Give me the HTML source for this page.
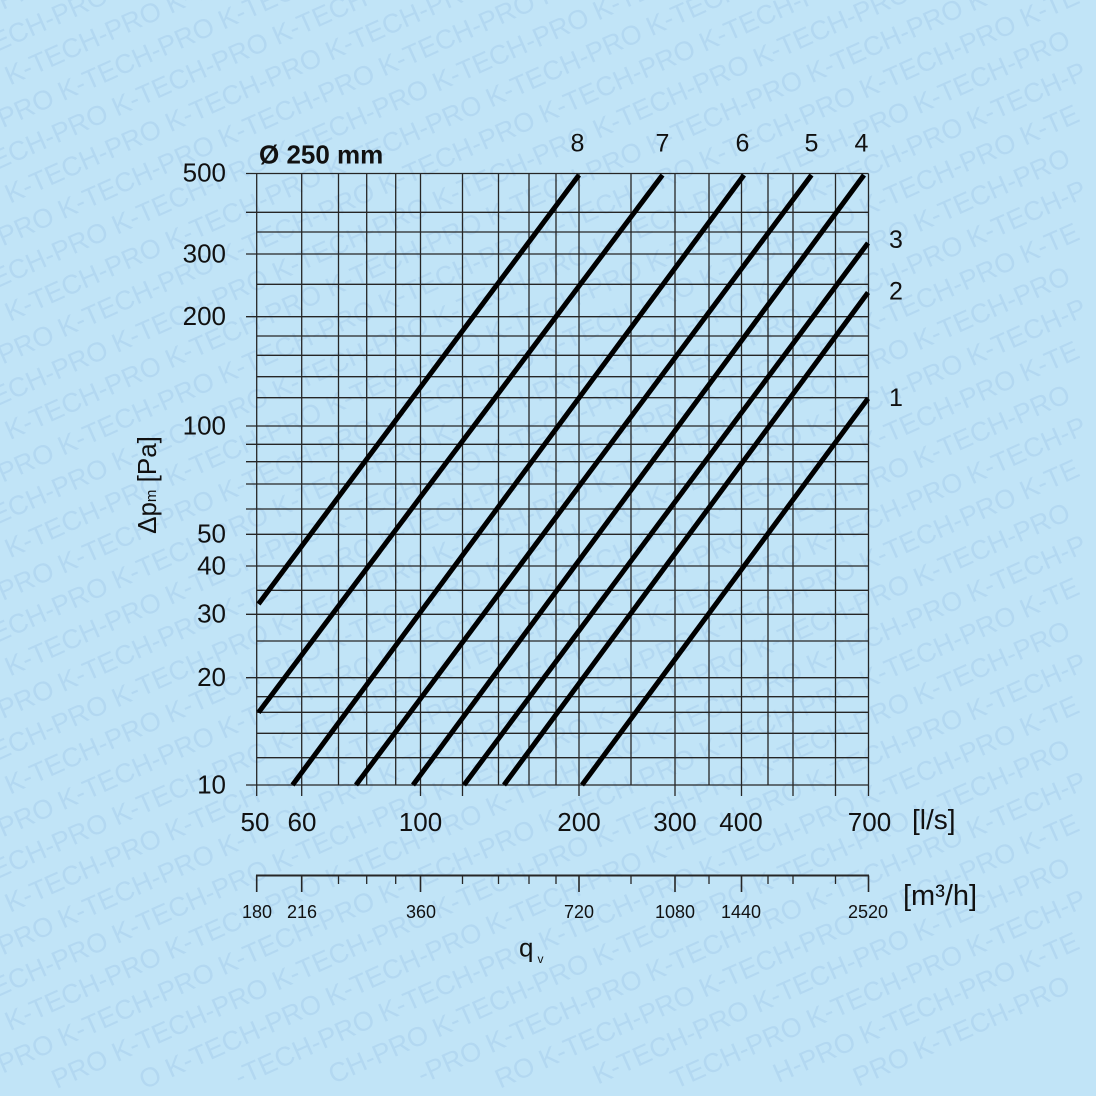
<!DOCTYPE html>
<html><head><meta charset="utf-8"><style>
html,body{margin:0;padding:0;background:#c1e4f7;width:1096px;height:1096px;overflow:hidden;}
svg{display:block;overflow:hidden;}
</style></head><body>
<svg width="1096" height="1096" viewBox="0 0 1096 1096" xmlns="http://www.w3.org/2000/svg" font-family="Liberation Sans, Arial, sans-serif">
<rect width="1096" height="1096" fill="#c1e4f7"/>
<g font-size="27" fill="#b3d8f1">
<text transform="rotate(-24 -97.3 54.5)" x="-97.3" y="54.5">K-TECH-PRO</text>
<text transform="rotate(-24 -43.3 69.9)" x="-43.3" y="69.9">K-TECH-PRO K-TECH-PRO</text>
<text transform="rotate(-24 -150.3 156.9)" x="-150.3" y="156.9">K-TECH-PRO K-TECH-PRO K-TECH-PRO</text>
<text transform="rotate(-24 -97.3 172.7)" x="-97.3" y="172.7">K-TECH-PRO K-TECH-PRO K-TECH-PRO</text>
<text transform="rotate(-24 -43.3 188.1)" x="-43.3" y="188.1">K-TECH-PRO K-TECH-PRO K-TECH-PRO</text>
<text transform="rotate(-24 -150.3 275.1)" x="-150.3" y="275.1">K-TECH-PRO K-TECH-PRO K-TECH-PRO K-TECH-PRO</text>
<text transform="rotate(-24 -97.3 290.9)" x="-97.3" y="290.9">K-TECH-PRO K-TECH-PRO K-TECH-PRO K-TECH-PRO K-TECH-PRO</text>
<text transform="rotate(-24 -43.3 306.3)" x="-43.3" y="306.3">K-TECH-PRO K-TECH-PRO K-TECH-PRO K-TECH-PRO K-TECH-PRO</text>
<text transform="rotate(-24 -150.3 393.3)" x="-150.3" y="393.3">K-TECH-PRO K-TECH-PRO K-TECH-PRO K-TECH-PRO K-TECH-PRO K-TECH-PRO</text>
<text transform="rotate(-24 -97.3 409.1)" x="-97.3" y="409.1">K-TECH-PRO K-TECH-PRO K-TECH-PRO K-TECH-PRO K-TECH-PRO K-TECH-PRO</text>
<text transform="rotate(-24 -43.3 424.5)" x="-43.3" y="424.5">K-TECH-PRO K-TECH-PRO K-TECH-PRO K-TECH-PRO K-TECH-PRO K-TECH-PRO K-TECH-PRO</text>
<text transform="rotate(-24 -150.3 511.5)" x="-150.3" y="511.5">K-TECH-PRO K-TECH-PRO K-TECH-PRO K-TECH-PRO K-TECH-PRO K-TECH-PRO K-TECH-PRO K-TECH-P</text>
<text transform="rotate(-24 -97.3 527.3)" x="-97.3" y="527.3">K-TECH-PRO K-TECH-PRO K-TECH-PRO K-TECH-PRO K-TECH-PRO K-TECH-PRO K-TECH-PRO K-TE</text>
<text transform="rotate(-24 -43.3 542.7)" x="-43.3" y="542.7">K-TECH-PRO K-TECH-PRO K-TECH-PRO K-TECH-PRO K-TECH-PRO K-TECH-PRO K-TECH-PRO</text>
<text transform="rotate(-24 -150.3 629.7)" x="-150.3" y="629.7">K-TECH-PRO K-TECH-PRO K-TECH-PRO K-TECH-PRO K-TECH-PRO K-TECH-PRO K-TECH-PRO K-TECH-P</text>
<text transform="rotate(-24 -97.3 645.5)" x="-97.3" y="645.5">K-TECH-PRO K-TECH-PRO K-TECH-PRO K-TECH-PRO K-TECH-PRO K-TECH-PRO K-TECH-PRO K-TE</text>
<text transform="rotate(-24 -43.3 660.9)" x="-43.3" y="660.9">K-TECH-PRO K-TECH-PRO K-TECH-PRO K-TECH-PRO K-TECH-PRO K-TECH-PRO K-TECH-PRO</text>
<text transform="rotate(-24 -150.3 747.9)" x="-150.3" y="747.9">K-TECH-PRO K-TECH-PRO K-TECH-PRO K-TECH-PRO K-TECH-PRO K-TECH-PRO K-TECH-PRO K-TECH-P</text>
<text transform="rotate(-24 -97.3 763.7)" x="-97.3" y="763.7">K-TECH-PRO K-TECH-PRO K-TECH-PRO K-TECH-PRO K-TECH-PRO K-TECH-PRO K-TECH-PRO K-TE</text>
<text transform="rotate(-24 -43.3 779.1)" x="-43.3" y="779.1">K-TECH-PRO K-TECH-PRO K-TECH-PRO K-TECH-PRO K-TECH-PRO K-TECH-PRO K-TECH-PRO</text>
<text transform="rotate(-24 -150.3 866.1)" x="-150.3" y="866.1">K-TECH-PRO K-TECH-PRO K-TECH-PRO K-TECH-PRO K-TECH-PRO K-TECH-PRO K-TECH-PRO K-TECH-P</text>
<text transform="rotate(-24 -97.3 881.9)" x="-97.3" y="881.9">K-TECH-PRO K-TECH-PRO K-TECH-PRO K-TECH-PRO K-TECH-PRO K-TECH-PRO K-TECH-PRO K-TE</text>
<text transform="rotate(-24 -43.3 897.3)" x="-43.3" y="897.3">K-TECH-PRO K-TECH-PRO K-TECH-PRO K-TECH-PRO K-TECH-PRO K-TECH-PRO K-TECH-PRO</text>
<text transform="rotate(-24 -150.3 984.3)" x="-150.3" y="984.3">K-TECH-PRO K-TECH-PRO K-TECH-PRO K-TECH-PRO K-TECH-PRO K-TECH-PRO K-TECH-PRO K-TECH-P</text>
<text transform="rotate(-24 -97.3 1000.1)" x="-97.3" y="1000.1">K-TECH-PRO K-TECH-PRO K-TECH-PRO K-TECH-PRO K-TECH-PRO K-TECH-PRO K-TECH-PRO K-TE</text>
<text transform="rotate(-24 -43.3 1015.5)" x="-43.3" y="1015.5">K-TECH-PRO K-TECH-PRO K-TECH-PRO K-TECH-PRO K-TECH-PRO K-TECH-PRO K-TECH-PRO</text>
<text transform="rotate(-24 -110.6 1084.8)" x="-110.6" y="1084.8">ECH-PRO K-TECH-PRO K-TECH-PRO K-TECH-PRO K-TECH-PRO K-TECH-PRO K-TECH-PRO K-TECH-P</text>
<text transform="rotate(-24 -23.3 1085.4)" x="-23.3" y="1085.4">H-PRO K-TECH-PRO K-TECH-PRO K-TECH-PRO K-TECH-PRO K-TECH-PRO K-TECH-PRO K-TE</text>
<text transform="rotate(-24 56.7 1089.1)" x="56.7" y="1089.1">PRO K-TECH-PRO K-TECH-PRO K-TECH-PRO K-TECH-PRO K-TECH-PRO K-TECH-PRO</text>
<text transform="rotate(-24 144.3 1089.6)" x="144.3" y="1089.6">O K-TECH-PRO K-TECH-PRO K-TECH-PRO K-TECH-PRO K-TECH-PRO K-TECH-P</text>
<text transform="rotate(-24 239.7 1086.5)" x="239.7" y="1086.5">-TECH-PRO K-TECH-PRO K-TECH-PRO K-TECH-PRO K-TECH-PRO K-TE</text>
<text transform="rotate(-24 333.5 1084.2)" x="333.5" y="1084.2">CH-PRO K-TECH-PRO K-TECH-PRO K-TECH-PRO K-TECH-PRO</text>
<text transform="rotate(-24 422.4 1084)" x="422.4" y="1084">-PRO K-TECH-PRO K-TECH-PRO K-TECH-PRO K-TECH-P</text>
<text transform="rotate(-24 500.1 1088.8)" x="500.1" y="1088.8">RO K-TECH-PRO K-TECH-PRO K-TECH-PRO K-TE</text>
<text transform="rotate(-24 597.9 1084.6)" x="597.9" y="1084.6">K-TECH-PRO K-TECH-PRO K-TECH-PRO</text>
<text transform="rotate(-24 675.8 1089.3)" x="675.8" y="1089.3">TECH-PRO K-TECH-PRO K-TECH-P</text>
<text transform="rotate(-24 778.2 1083.1)" x="778.2" y="1083.1">H-PRO K-TECH-PRO K-TE</text>
<text transform="rotate(-24 858.2 1086.9)" x="858.2" y="1086.9">PRO K-TECH-PRO</text>
</g>

<!-- grid -->
<g stroke="#262626" stroke-width="1.3" fill="none">
<path d="M256.7 232H868.5 M256.7 284.3H868.5 M256.7 336H868.5 M256.7 355.3H868.5 M256.7 376.7H868.5 M256.7 397.7H868.5 M256.7 590.3H868.5 M256.7 641H868.5 M256.7 696.7H868.5 M256.7 712.3H868.5 M256.7 733.3H868.5 M256.7 757.7H868.5"/>
<path d="M246 173.5H868.5 M246 212.3H868.5 M246 254H868.5 M246 316.7H868.5 M246 426H868.5 M246 444.3H868.5 M246 461.7H868.5 M246 484H868.5 M246 509H868.5 M246 534.3H868.5 M246 566H868.5 M246 614.3H868.5 M246 677.7H868.5 M246 785H868.5"/>
<path d="M338.5 173.5V785 M366.7 173.5V785 M395.7 173.5V785 M498.5 173.5V785 M529 173.5V785 M556 173.5V785 M631 173.5V785 M709 173.5V785 M768 173.5V785"/>
<path d="M256.7 173.5V796 M301.7 173.5V796 M420.5 173.5V796 M462.5 173.5V796 M579 173.5V796 M675 173.5V796 M741.5 173.5V796 M793 173.5V796 M835.5 173.5V796 M868.5 173.5V796"/>
</g>

<!-- m3/h axis -->
<g stroke="#262626" fill="none">
<path d="M256 875.5H869" stroke-width="2"/>
<path d="M256.7 875.5V892 M301.7 875.5V892 M420.5 875.5V892 M579 875.5V892 M675 875.5V892 M741.5 875.5V892 M868.5 875.5V892" stroke-width="1.6"/>
<path d="M338.5 875.5V884 M366.7 875.5V884 M395.7 875.5V884 M462.5 875.5V884 M498.5 875.5V884 M529 875.5V884 M556 875.5V884 M631 875.5V884 M709 875.5V884 M768 875.5V884 M793 875.5V884 M835.5 875.5V884" stroke-width="1.3"/>
</g>

<!-- series -->
<g stroke="#000" stroke-width="5" stroke-linecap="butt" fill="none">
<line x1="258.5" y1="604" x2="579" y2="175"/>
<line x1="258.5" y1="712.5" x2="662.5" y2="175"/>
<line x1="292.5" y1="785" x2="744" y2="175"/>
<line x1="356" y1="785" x2="811.5" y2="175"/>
<line x1="413" y1="785" x2="864" y2="175"/>
<line x1="464" y1="785" x2="868" y2="243"/>
<line x1="504" y1="785" x2="868" y2="292.5"/>
<line x1="582" y1="785" x2="868" y2="398.5"/>
</g>

<!-- texts -->
<g fill="#111" font-size="26">
<text x="259" y="163.5" font-weight="bold" font-size="26">Ø 250 mm</text>
<g text-anchor="end">
<text x="226" y="181.5">500</text>
<text x="226" y="262.5">300</text>
<text x="226" y="325">200</text>
<text x="226" y="434.5">100</text>
<text x="226" y="542.5">50</text>
<text x="226" y="574.5">40</text>
<text x="226" y="622.5">30</text>
<text x="226" y="686">20</text>
<text x="226" y="793.5">10</text>
</g>
<g text-anchor="middle">
<text x="255" y="831">50</text>
<text x="302" y="831">60</text>
<text x="420.5" y="831">100</text>
<text x="579" y="831">200</text>
<text x="675" y="831">300</text>
<text x="741" y="831">400</text>
<text x="869.5" y="831">700</text>
<text x="577.5" y="151.5" font-size="25">8</text>
<text x="662.5" y="151.5" font-size="25">7</text>
<text x="742.5" y="151.5" font-size="25">6</text>
<text x="811.5" y="151.5" font-size="25">5</text>
<text x="861.5" y="151.5" font-size="25">4</text>
</g>
<text x="889" y="248" font-size="25">3</text>
<text x="889" y="299.5" font-size="25">2</text>
<text x="889" y="406" font-size="25">1</text>
<text x="912" y="829" font-size="28">[l/s]</text>
<text x="903" y="905" font-size="29">[m³/h]</text>
<g text-anchor="middle" font-size="18">
<text x="257" y="918">180</text>
<text x="302" y="918">216</text>
<text x="421" y="918">360</text>
<text x="579" y="918">720</text>
<text x="675" y="918">1080</text>
<text x="741" y="918">1440</text>
<text x="868" y="918">2520</text>
</g>
<text x="519" y="956.5" font-size="26">q</text>
<text x="537.5" y="963" font-size="12">v</text>
<text transform="translate(156 485) rotate(-90)" text-anchor="middle" font-size="26">Δp<tspan font-size="15">m</tspan> [Pa]</text>
</g>
</svg>
</body></html>
